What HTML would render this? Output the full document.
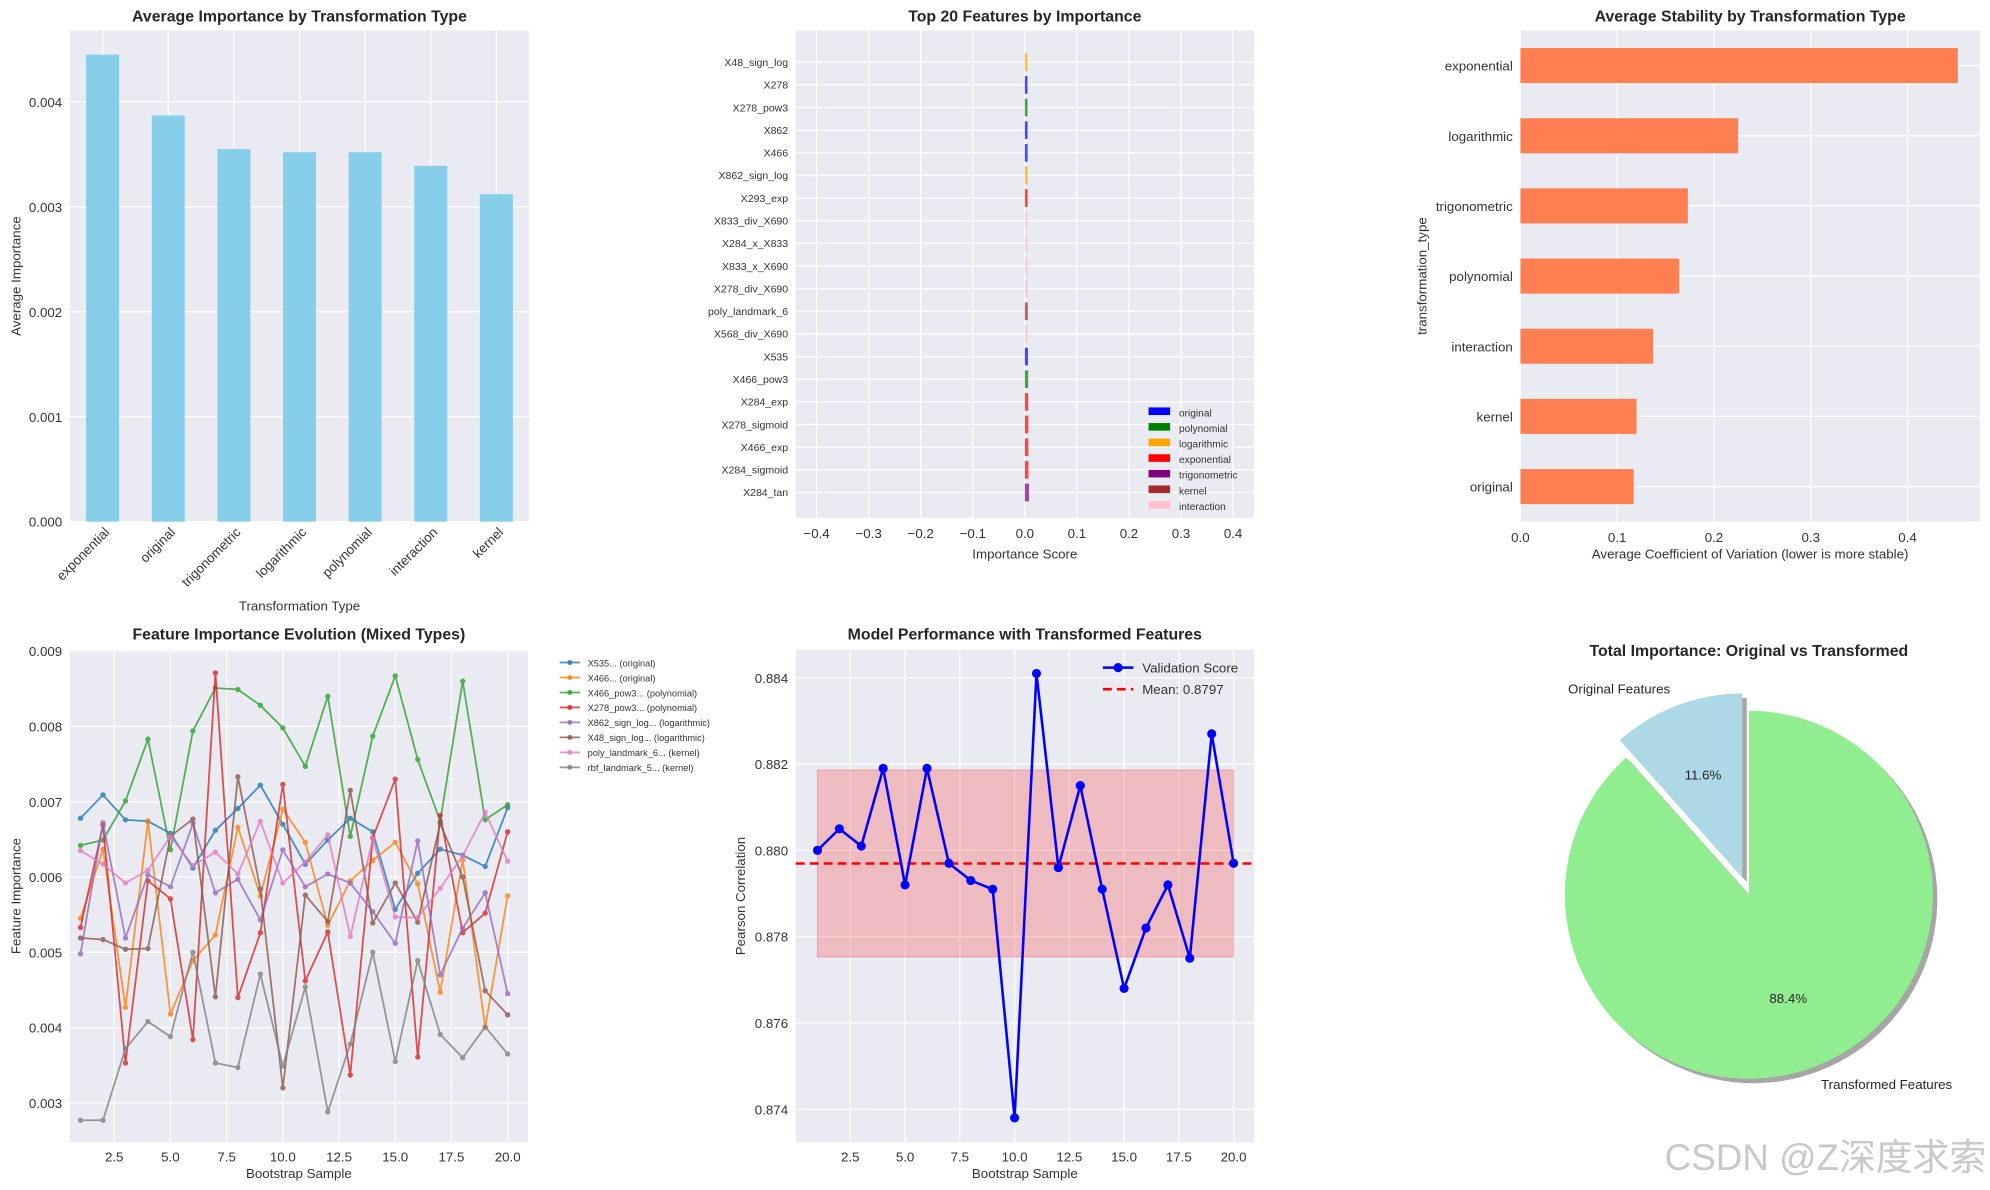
<!DOCTYPE html>
<html><head><meta charset="utf-8">
<style>
html,body{margin:0;padding:0;background:#fff;}
svg{display:block;font-family:"Liberation Sans","Noto Sans CJK SC",sans-serif;}
</style></head>
<body>
<svg id="fig" width="1990" height="1190" viewBox="0 0 1568 937.6" xmlns="http://www.w3.org/2000/svg">
<rect width="1568" height="937.6" fill="#fff"/>
</svg>
<script>
// ---- data ----
const p1Categories = ['exponential','original','trigonometric','logarithmic','polynomial','interaction','kernel'];
const p1Values = [0.00445,0.00387,0.00355,0.00352,0.00352,0.00339,0.00312];
const p1Ticks = [0,0.001,0.002,0.003,0.004];

const p2Features = ['X48_sign_log','X278','X278_pow3','X862','X466','X862_sign_log','X293_exp','X833_div_X690','X284_x_X833','X833_x_X690','X278_div_X690','poly_landmark_6','X568_div_X690','X535','X466_pow3','X284_exp','X278_sigmoid','X466_exp','X284_sigmoid','X284_tan'];
const p2Types = ['logarithmic','original','polynomial','original','original','logarithmic','exponential','interaction','interaction','interaction','interaction','kernel','interaction','original','polynomial','exponential','exponential','exponential','exponential','trigonometric'];
const p2Values = [0.0050,0.0051,0.0052,0.0052,0.0053,0.0053,0.0054,0.0055,0.0055,0.0056,0.0057,0.0058,0.0059,0.0060,0.0065,0.0066,0.0067,0.0068,0.0069,0.0080];
const p2LegendTypes = ['original','polynomial','logarithmic','exponential','trigonometric','kernel','interaction'];
const p2Ticks = [-0.4,-0.3,-0.2,-0.1,0,0.1,0.2,0.3,0.4];

const p3Categories = ['exponential','logarithmic','trigonometric','polynomial','interaction','kernel','original'];
const p3Values = [0.452,0.225,0.173,0.164,0.137,0.120,0.117];
const p3Ticks = [0,0.1,0.2,0.3,0.4];

const p4X = [1,2,3,4,5,6,7,8,9,10,11,12,13,14,15,16,17,18,19,20];
const p4Labels = ['X535... (original)','X466... (original)','X466_pow3... (polynomial)','X278_pow3... (polynomial)','X862_sign_log... (logarithmic)','X48_sign_log... (logarithmic)','poly_landmark_6... (kernel)','rbf_landmark_5... (kernel)'];
const s1 = [0.00678,0.00709,0.00676,0.00674,0.00658,0.00612,0.00662,0.00691,0.00722,0.00670,0.00617,0.00649,0.00678,0.00660,0.00557,0.00605,0.00637,0.00629,0.00614,0.00692];
const s2 = [0.00545,0.00637,0.00427,0.00674,0.00418,0.00489,0.00523,0.00666,0.00575,0.00690,0.00646,0.00536,0.00595,0.00622,0.00646,0.00591,0.00447,0.00623,0.00400,0.00575];
const s3 = [0.00642,0.00649,0.00701,0.00783,0.00636,0.00794,0.00851,0.00849,0.00828,0.00798,0.00747,0.00840,0.00654,0.00787,0.00867,0.00756,0.00674,0.00860,0.00676,0.00696];
const s4 = [0.00533,0.00669,0.00353,0.00595,0.00571,0.00384,0.00871,0.00440,0.00526,0.00723,0.00462,0.00527,0.00337,0.00652,0.00730,0.00361,0.00682,0.00526,0.00552,0.00660];
const s5 = [0.00498,0.00672,0.00519,0.00603,0.00587,0.00671,0.00579,0.00597,0.00543,0.00636,0.00587,0.00604,0.00592,0.00554,0.00512,0.00648,0.00470,0.00532,0.00579,0.00445];
const s6 = [0.00519,0.00517,0.00504,0.00505,0.00654,0.00677,0.00441,0.00733,0.00584,0.00320,0.00576,0.00541,0.00715,0.00539,0.00592,0.00540,0.00671,0.00600,0.00449,0.00417];
const s7 = [0.00635,0.00617,0.00592,0.00609,0.00654,0.00615,0.00633,0.00604,0.00674,0.00592,0.00620,0.00656,0.00521,0.00651,0.00547,0.00546,0.00585,0.00628,0.00686,0.00621];
const s8 = [0.00277,0.00277,0.00372,0.00408,0.00388,0.00500,0.00353,0.00347,0.00471,0.00349,0.00454,0.00288,0.00378,0.00500,0.00355,0.00489,0.00391,0.00360,0.00401,0.00365];
const p4YTicks = [0.003,0.004,0.005,0.006,0.007,0.008,0.009];
const p4XTicks = [2.5,5,7.5,10,12.5,15,17.5,20];

const p5X = [1,2,3,4,5,6,7,8,9,10,11,12,13,14,15,16,17,18,19,20];
const p5Values = [0.8800,0.8805,0.8801,0.8819,0.8792,0.8819,0.8797,0.8793,0.8791,0.8738,0.8841,0.8796,0.8815,0.8791,0.8768,0.8782,0.8792,0.8775,0.8827,0.8797];
const p5YTicks = [0.874,0.876,0.878,0.880,0.882,0.884];
const p5XTicks = [2.5,5,7.5,10,12.5,15,17.5,20];

const p6Labels = ['Original Features','Transformed Features'];
const p6Values = [11.6,88.4];

// ---- helpers ----
const NS='http://www.w3.org/2000/svg';
const svg=document.getElementById('fig');
function el(tag,attrs,parent,text){const e=document.createElementNS(NS,tag);for(const k in attrs)e.setAttribute(k,attrs[k]);if(text!==undefined)e.textContent=text;(parent||svg).appendChild(e);return e;}
function lin(d0,d1,r0,r1){return v=>r0+(v-d0)/(d1-d0)*(r1-r0);}
const TC='#333';
function fmt(v,d){return v.toFixed(d);}

// ===== Panel 1 =====
(function(){
 const L=55,R=417,T=24,B=411;
 const g=el('g',{});
 
 
 el('rect',{x:L,y:T,width:R-L,height:B-T,fill:'#eaeaf2'},g);
 const y=lin(0,0.00468,B,T);
 const step=(R-L)/p1Categories.length;
 const x=i=>L+step*(i+0.5);
 p1Ticks.forEach(t=>{el('line',{x1:L,x2:R,y1:y(t),y2:y(t),stroke:'#fff','stroke-width':1},g);
  const lb=el('text',{x:L-6,y:y(t)+4,'text-anchor':'end','font-size':10.5,fill:TC},g,fmt(t,3));
  });
 p1Categories.forEach((c,i)=>el('line',{x1:x(i),x2:x(i),y1:T,y2:B,stroke:'#fff','stroke-width':1},g));
 p1Values.forEach((v,i)=>{const r=el('rect',{x:x(i)-13,y:y(v),width:26,height:B-y(v),fill:'#87ceeb'},g);
  
  const t=el('text',{transform:`translate(${x(i)+6},${B+9}) rotate(-45)`,'text-anchor':'end','font-size':10.5,fill:TC},g,p1Categories[i]);
  });
 const ti=el('text',{x:(L+R)/2,y:17,'text-anchor':'middle','font-size':12.5,'font-weight':'bold',fill:'#262626'},g,'Average Importance by Transformation Type');
 
 const xl=el('text',{x:(L+R)/2,y:481,'text-anchor':'middle','font-size':10.5,fill:TC},g,'Transformation Type');
 
 const yl=el('text',{transform:`translate(16,${(T+B)/2}) rotate(-90)`,'text-anchor':'middle','font-size':10.5,fill:TC},g,'Average Importance');
 
})();

// ===== Panel 2 =====
const typeColors={original:'#0000ff',polynomial:'#008000',logarithmic:'#ffa500',exponential:'#ff0000',trigonometric:'#800080',kernel:'#a52a2a',interaction:'#ffc0cb'};
(function(){
 const L=627,R=988,T=24,B=408;
 const g=el('g',{});
 
 
 el('rect',{x:L,y:T,width:R-L,height:B-T,fill:'#eaeaf2'},g);
 const x=lin(-0.44,0.44,L,R);
 const n=p2Features.length;
 const y=lin(0,n-1,49,388);
 const yc=i=>y(i);
 p2Ticks.forEach(t=>{el('line',{x1:x(t),x2:x(t),y1:T,y2:B,stroke:'#fff','stroke-width':1},g);
  const lb=el('text',{x:x(t),y:B+16,'text-anchor':'middle','font-size':10.5,fill:TC},g,(t<0?'\u2212':'')+Math.abs(t).toFixed(1));
  });
 p2Features.forEach((f,i)=>{el('line',{x1:L,x2:R,y1:yc(i),y2:yc(i),stroke:'#fff','stroke-width':1},g);
  const lb=el('text',{x:L-6,y:yc(i)+3,'text-anchor':'end','font-size':8.3,fill:TC},g,f);
  });
 p2Values.forEach((v,i)=>{const r=el('rect',{x:x(0),y:yc(i)-7,width:Math.max(x(v)-x(0),0.5),height:14,fill:typeColors[p2Types[i]],opacity:0.7},g);
  });
 p2LegendTypes.forEach((t,i)=>{const yy=325+i*12.3;
  const lg=el('g',{},g);
  el('rect',{x:905,y:yy-4,width:17,height:6,fill:typeColors[t]},lg);
  el('text',{x:929,y:yy+3,'font-size':8,fill:TC},lg,t);});
 const ti=el('text',{x:(L+R)/2,y:17,'text-anchor':'middle','font-size':12.5,'font-weight':'bold',fill:'#262626'},g,'Top 20 Features by Importance');
 
 const xl=el('text',{x:(L+R)/2,y:440,'text-anchor':'middle','font-size':10.5,fill:TC},g,'Importance Score');
 
})();

// ===== Panel 3 =====
(function(){
 const L=1198,R=1560,T=24,B=411;
 const g=el('g',{});
 
 
 el('rect',{x:L,y:T,width:R-L,height:B-T,fill:'#eaeaf2'},g);
 const x=lin(0,0.1,L,L+76.25);
 const step=(B-T)/p3Categories.length;
 const yc=i=>T+step*(i+0.5);
 p3Ticks.forEach(t=>{el('line',{x1:x(t),x2:x(t),y1:T,y2:B,stroke:'#fff','stroke-width':1},g);
  const lb=el('text',{x:x(t),y:B+16,'text-anchor':'middle','font-size':10.5,fill:TC},g,t.toFixed(1));
  });
 p3Categories.forEach((c,i)=>{el('line',{x1:L,x2:R,y1:yc(i),y2:yc(i),stroke:'#fff','stroke-width':1},g);
  const lb=el('text',{x:L-6,y:yc(i)+4,'text-anchor':'end','font-size':10.5,fill:TC},g,c);
  });
 p3Values.forEach((v,i)=>{const r=el('rect',{x:L,y:yc(i)-13.8,width:x(v)-L,height:27.6,fill:'#ff7f50'},g);
  });
 const ti=el('text',{x:(L+R)/2,y:17,'text-anchor':'middle','font-size':12.5,'font-weight':'bold',fill:'#262626'},g,'Average Stability by Transformation Type');
 
 const xl=el('text',{x:(L+R)/2,y:440,'text-anchor':'middle','font-size':10.5,fill:TC},g,'Average Coefficient of Variation (lower is more stable)');
 
 const yl=el('text',{transform:`translate(1124,${(T+B)/2}) rotate(-90)`,'text-anchor':'middle','font-size':10.5,fill:TC},g,'transformation_type');
 
})();

// ===== Panel 4 =====
(function(){
 const L=55,R=416,T=512,B=900;
 const g=el('g',{});
 
 
 el('rect',{x:L,y:T,width:R-L,height:B-T,fill:'#eaeaf2'},g);
 const y=lin(0.003,0.009,869,513);
 const x=lin(2.5,20,90,400);
 p4YTicks.forEach(t=>{el('line',{x1:L,x2:R,y1:y(t),y2:y(t),stroke:'#fff','stroke-width':1},g);
  const lb=el('text',{x:L-6,y:y(t)+4,'text-anchor':'end','font-size':10.5,fill:TC},g,fmt(t,3));
  });
 p4XTicks.forEach(t=>{el('line',{x1:x(t),x2:x(t),y1:T,y2:B,stroke:'#fff','stroke-width':1},g);
  const lb=el('text',{x:x(t),y:B+15,'text-anchor':'middle','font-size':10.5,fill:TC},g,t.toFixed(1));
  });
 const series=[s1,s2,s3,s4,s5,s6,s7,s8];
 const cols=['#1f77b4','#ff7f0e','#2ca02c','#d62728','#9467bd','#8c564b','#e377c2','#7f7f7f'];
 series.forEach((s,k)=>{
  const sg=el('g',{opacity:0.8},g);
  
  el('polyline',{points:s.map((v,i)=>x(p4X[i])+','+y(v)).join(' '),fill:'none',stroke:cols[k],'stroke-width':1.4},sg);
  s.forEach((v,i)=>el('circle',{cx:x(p4X[i]),cy:y(v),r:2.1,fill:cols[k]},sg));
  const yy=522+k*11.8;
  const lg=el('g',{},svg);
  el('line',{x1:441,x2:457,y1:yy,y2:yy,stroke:cols[k],'stroke-width':1.4,opacity:0.8},lg);
  el('circle',{cx:449,cy:yy,r:2,fill:cols[k],opacity:0.8},lg);
  el('text',{x:463,y:yy+3,'font-size':7.3,fill:TC},lg,p4Labels[k]);
 });
 const ti=el('text',{x:(L+R)/2,y:504,'text-anchor':'middle','font-size':12.5,'font-weight':'bold',fill:'#262626'},g,'Feature Importance Evolution (Mixed Types)');
 
 const xl=el('text',{x:(L+R)/2,y:928,'text-anchor':'middle','font-size':10.5,fill:TC},g,'Bootstrap Sample');
 
 const yl=el('text',{transform:`translate(16,${(T+B)/2}) rotate(-90)`,'text-anchor':'middle','font-size':10.5,fill:TC},g,'Feature Importance');
 
})();

// ===== Panel 5 =====
(function(){
 const L=627,R=988,T=512,B=900;
 const g=el('g',{});
 
 
 el('rect',{x:L,y:T,width:R-L,height:B-T,fill:'#eaeaf2'},g);
 const y=lin(0.874,0.884,874,534);
 const x=lin(2.5,20,670,972);
 p5YTicks.forEach(t=>{el('line',{x1:L,x2:R,y1:y(t),y2:y(t),stroke:'#fff','stroke-width':1},g);
  const lb=el('text',{x:L-6,y:y(t)+4,'text-anchor':'end','font-size':10.5,fill:TC},g,fmt(t,3));
  });
 p5XTicks.forEach(t=>{el('line',{x1:x(t),x2:x(t),y1:T,y2:B,stroke:'#fff','stroke-width':1},g);
  const lb=el('text',{x:x(t),y:B+15,'text-anchor':'middle','font-size':10.5,fill:TC},g,t.toFixed(1));
  });
 const mean=p5Values.reduce((a,b)=>a+b,0)/p5Values.length;
 const sd=Math.sqrt(p5Values.reduce((a,b)=>a+(b-mean)*(b-mean),0)/p5Values.length);
 const band=el('rect',{x:x(p5X[0]),y:y(mean+sd),width:x(p5X[p5X.length-1])-x(p5X[0]),height:y(mean-sd)-y(mean+sd),fill:'#ff0000','fill-opacity':0.2,stroke:'#ff0000','stroke-opacity':0.2},g);
 
 const ml=el('line',{x1:L,x2:R,y1:y(mean),y2:y(mean),stroke:'#ff0000','stroke-width':2,'stroke-dasharray':'7,4'},g);
 
 const sg=el('g',{},g);
 el('polyline',{points:p5Values.map((v,i)=>x(p5X[i])+','+y(v)).join(' '),fill:'none',stroke:'#0000ff','stroke-width':2},sg);
 p5Values.forEach((v,i)=>el('circle',{cx:x(p5X[i]),cy:y(v),r:3.6,fill:'#0000ff'},sg));
 const l1=el('g',{},g);
 el('line',{x1:869,x2:893,y1:526,y2:526,stroke:'#0000ff','stroke-width':2},l1);
 el('circle',{cx:881,cy:526,r:3.6,fill:'#0000ff'},l1);
 el('text',{x:900,y:530,'font-size':10.5,fill:TC},l1,'Validation Score');
 const l2=el('g',{},g);
 el('line',{x1:869,x2:893,y1:543,y2:543,stroke:'#ff0000','stroke-width':2,'stroke-dasharray':'7,4'},l2);
 el('text',{x:900,y:547,'font-size':10.5,fill:TC},l2,'Mean: '+mean.toFixed(4));
 const ti=el('text',{x:(L+R)/2,y:504,'text-anchor':'middle','font-size':12.5,'font-weight':'bold',fill:'#262626'},g,'Model Performance with Transformed Features');
 
 const xl=el('text',{x:(L+R)/2,y:928,'text-anchor':'middle','font-size':10.5,fill:TC},g,'Bootstrap Sample');
 
 const yl=el('text',{transform:`translate(587,${(T+B)/2}) rotate(-90)`,'text-anchor':'middle','font-size':10.5,fill:TC},g,'Pearson Correlation');
 
})();

// ===== Panel 6 pie =====
(function(){
 const cx=1378,cy=705,r=145;
 const g=el('g',{});
 
 
 const total=p6Values.reduce((a,b)=>a+b,0);
 const cols=['#add8e6','#90ee90'];
 const explode=[0.1,0];
 let a0=90;
 const slices=[];
 p6Values.forEach((v,i)=>{const a1=a0+v/total*360;slices.push([a0,a1]);a0=a1;});
 function path(i,ox,oy){const [s,e]=slices[i];const rad=d=>d*Math.PI/180;
  const mid=rad((s+e)/2);const ex=explode[i]*r;
  const c0=cx+ex*Math.cos(mid)+ox, c1=cy-ex*Math.sin(mid)+oy;
  const p1=[c0+r*Math.cos(rad(s)),c1-r*Math.sin(rad(s))],p2=[c0+r*Math.cos(rad(e)),c1-r*Math.sin(rad(e))];
  const large=(e-s)>180?1:0;
  return {d:`M${c0},${c1} L${p1[0]},${p1[1]} A${r},${r} 0 ${large} 0 ${p2[0]},${p2[1]} Z`,c0,c1,mid};}
 p6Values.forEach((v,i)=>{const p=path(i,3.5,3.5);el('path',{d:p.d,fill:'#000',opacity:0.35},g);});
 p6Values.forEach((v,i)=>{const p=path(i,0,0);
  const s=el('path',{d:p.d,fill:cols[i]},g);
  
  const pct=el('text',{x:p.c0+0.6*r*Math.cos(p.mid),y:p.c1-0.6*r*Math.sin(p.mid)+4,'text-anchor':'middle','font-size':10.5,fill:'#262626'},g,(v/total*100).toFixed(1)+'%');
  
  const lx=p.c0+1.1*r*Math.cos(p.mid),ly=p.c1-1.1*r*Math.sin(p.mid);
  const lb=el('text',{x:lx,y:ly+4,'text-anchor':Math.cos(p.mid)<0?'end':'start','font-size':10.5,fill:'#262626'},g,p6Labels[i]);
  });
 const ti=el('text',{x:1378,y:517,'text-anchor':'middle','font-size':12.5,'font-weight':'bold',fill:'#262626'},g,'Total Importance: Original vs Transformed');
 
})();

const wm=el('text',{x:1565,y:922,'text-anchor':'end','font-size':29,fill:'#c8c8c8'},svg,'CSDN @Z深度求索');


</script>
</body></html>
